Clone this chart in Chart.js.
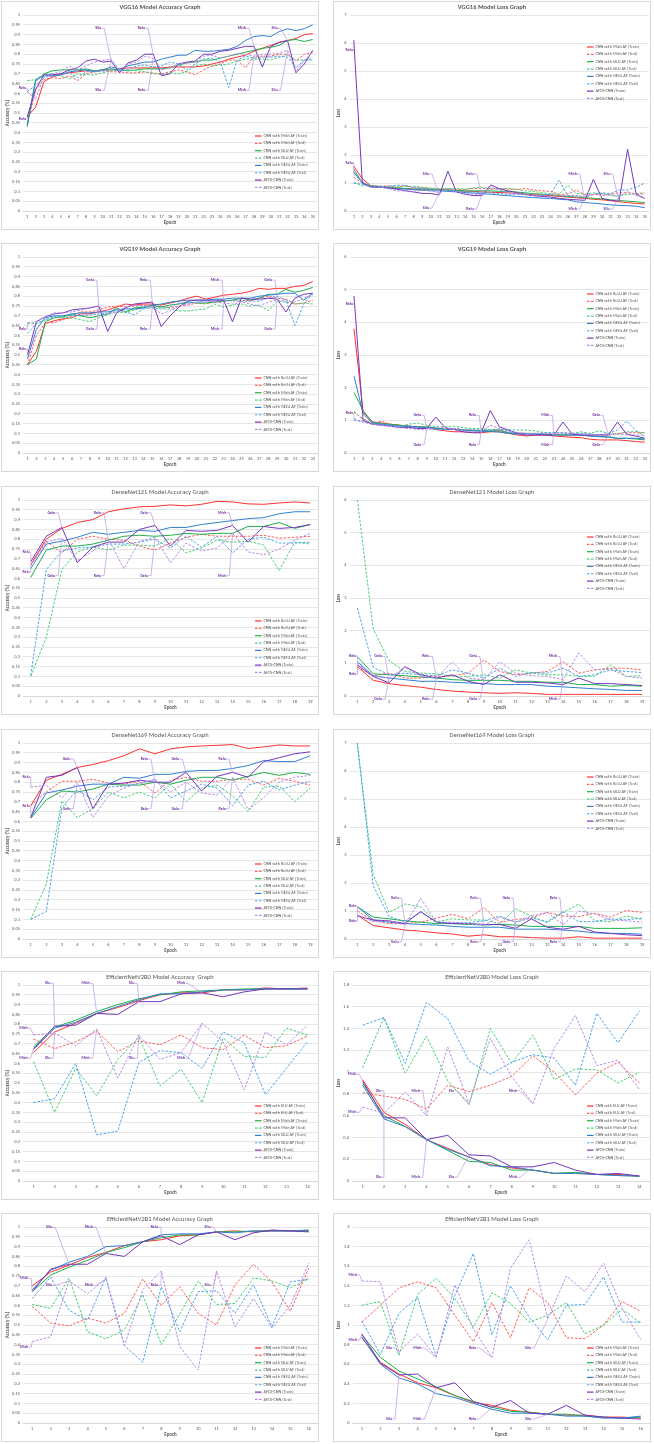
<!DOCTYPE html>
<html><head><meta charset="utf-8">
<script src="https://cdn.jsdelivr.net/npm/chart.js@4.4.1/dist/chart.umd.min.js"></script>
<style>
html,body{margin:0;padding:0;background:#fff}
body{width:654px;height:1444px;position:relative;overflow:hidden}
.p{position:absolute;width:318px;height:229px;border:1px solid #d9d9d9;box-sizing:border-box;background:#fff}
.p canvas{display:block}
</style></head><body>
<div class="p" style="left:1px;top:1px"><canvas id="c0" width="316" height="227"></canvas></div>
<div class="p" style="left:333px;top:1px"><canvas id="c1" width="316" height="227"></canvas></div>
<div class="p" style="left:1px;top:243px"><canvas id="c2" width="316" height="227"></canvas></div>
<div class="p" style="left:333px;top:243px"><canvas id="c3" width="316" height="227"></canvas></div>
<div class="p" style="left:1px;top:486px"><canvas id="c4" width="316" height="227"></canvas></div>
<div class="p" style="left:333px;top:486px"><canvas id="c5" width="316" height="227"></canvas></div>
<div class="p" style="left:1px;top:729px"><canvas id="c6" width="316" height="227"></canvas></div>
<div class="p" style="left:333px;top:729px"><canvas id="c7" width="316" height="227"></canvas></div>
<div class="p" style="left:1px;top:971px"><canvas id="c8" width="316" height="227"></canvas></div>
<div class="p" style="left:333px;top:971px"><canvas id="c9" width="316" height="227"></canvas></div>
<div class="p" style="left:1px;top:1213px"><canvas id="c10" width="316" height="227"></canvas></div>
<div class="p" style="left:333px;top:1213px"><canvas id="c11" width="316" height="227"></canvas></div>
<script>
// ---------- categories ----------
const epochs35 = [1,2,3,4,5,6,7,8,9,10,11,12,13,14,15,16,17,18,19,20,21,22,23,24,25,26,27,28,29,30,31,32,33,34,35];
const epochs33 = [1,2,3,4,5,6,7,8,9,10,11,12,13,14,15,16,17,18,19,20,21,22,23,24,25,26,27,28,29,30,31,32,33];
const epochs19 = [1,2,3,4,5,6,7,8,9,10,11,12,13,14,15,16,17,18,19];
const epochs16 = [1,2,3,4,5,6,7,8,9,10,11,12,13,14,15,16];
const epochs14 = [1,2,3,4,5,6,7,8,9,10,11,12,13,14];

// ---------- y tick labels ----------
const yTicksAcc = [0,0.05,0.1,0.15,0.2,0.25,0.3,0.35,0.4,0.45,0.5,0.55,0.6,0.65,0.7,0.75,0.8,0.85,0.9,0.95,1];
const yTicksLoss7 = [0,1,2,3,4,5,6,7];
const yTicksLoss6 = [0,1,2,3,4,5,6];
const yTicksLoss18 = [0,0.2,0.4,0.6,0.8,1,1.2,1.4,1.6,1.8];
const yTicksLoss2 = [0,0.2,0.4,0.6,0.8,1,1.2,1.4,1.6,1.8,2];

// ---------- series names ----------
const namesMishSiluGelu = ['CNN with Mish AF (Train)','CNN with Mish AF (Test)','CNN with SILU AF (Train)','CNN with SILU AF (Test)','CNN with GELU AF (Train)','CNN with GELU AF (Test)','AFCS-CNN (Train)','AFCS-CNN (Test)'];
const namesReluMishGelu = ['CNN with ReLU AF (Train)','CNN with ReLU AF (Test)','CNN with Mish AF (Train)','CNN with Mish AF (Test)','CNN with GELU AF (Train)','CNN with GELU AF (Test)','AFCS-CNN (Train)','AFCS-CNN (Test)'];
const namesReluSiluGelu = ['CNN with ReLU AF (Train)','CNN with ReLU AF (Test)','CNN with SILU AF (Train)','CNN with SILU AF (Test)','CNN with GELU AF (Train)','CNN with GELU AF (Test)','AFCS-CNN (Train)','AFCS-CNN (Test)'];
const namesEluMishSilu = ['CNN with ELU AF (Train)','CNN with ELU AF (Test)','CNN with Mish AF (Train)','CNN with Mish AF (Test)','CNN with SILU AF (Train)','CNN with SILU AF (Test)','AFCS-CNN (Train)','AFCS-CNN (Test)'];

// ---------- VGG16 accuracy ----------
const vgg16AccMishTrain = [0.48,0.53,0.66,0.685,0.695,0.705,0.71,0.715,0.715,0.72,0.72,0.725,0.73,0.73,0.73,0.73,0.73,0.735,0.735,0.735,0.735,0.74,0.75,0.76,0.775,0.785,0.795,0.815,0.83,0.845,0.86,0.87,0.88,0.9,0.905];
const vgg16AccMishTest = [0.44,0.62,0.67,0.68,0.675,0.69,0.665,0.7,0.71,0.715,0.71,0.71,0.705,0.705,0.71,0.7,0.7,0.71,0.72,0.71,0.695,0.72,0.74,0.75,0.77,0.77,0.73,0.79,0.79,0.79,0.8,0.8,0.765,0.8,0.81];
const vgg16AccSiluTrain = [0.43,0.66,0.7,0.715,0.72,0.72,0.72,0.725,0.715,0.72,0.725,0.72,0.715,0.72,0.725,0.725,0.725,0.73,0.745,0.755,0.76,0.77,0.77,0.78,0.79,0.8,0.81,0.82,0.83,0.835,0.845,0.87,0.875,0.865,0.875];
const vgg16AccSiluTest = [0.665,0.67,0.7,0.7,0.69,0.675,0.7,0.695,0.695,0.705,0.715,0.72,0.72,0.715,0.71,0.705,0.695,0.705,0.7,0.71,0.74,0.75,0.74,0.745,0.75,0.765,0.775,0.775,0.775,0.77,0.785,0.795,0.77,0.77,0.78];
const vgg16AccGeluTrain = [0.44,0.67,0.69,0.69,0.695,0.71,0.715,0.72,0.71,0.72,0.735,0.725,0.74,0.75,0.76,0.76,0.775,0.785,0.795,0.795,0.82,0.815,0.815,0.82,0.825,0.84,0.87,0.89,0.895,0.89,0.915,0.93,0.92,0.93,0.95];
const vgg16AccGeluTest = [0.61,0.64,0.68,0.69,0.7,0.705,0.68,0.71,0.715,0.715,0.72,0.715,0.72,0.74,0.745,0.735,0.74,0.76,0.75,0.72,0.75,0.775,0.78,0.76,0.63,0.77,0.79,0.78,0.785,0.785,0.79,0.785,0.73,0.77,0.77];
const vgg16AccAfcsTrain = [0.48,0.62,0.695,0.695,0.7,0.72,0.73,0.765,0.775,0.76,0.765,0.705,0.755,0.77,0.8,0.8,0.69,0.7,0.75,0.76,0.765,0.8,0.8,0.815,0.82,0.83,0.84,0.84,0.735,0.84,0.86,0.87,0.705,0.75,0.82];
const vgg16AccAfcsTest = [0.61,0.57,0.69,0.7,0.71,0.74,0.72,0.74,0.76,0.77,0.775,0.715,0.75,0.76,0.79,0.78,0.72,0.73,0.75,0.755,0.76,0.79,0.795,0.78,0.79,0.805,0.8,0.79,0.8,0.8,0.805,0.82,0.71,0.77,0.81];

// ---------- VGG16 loss ----------
const vgg16LossMishTrain = [1.6,1.15,0.9,0.88,0.85,0.82,0.8,0.78,0.78,0.77,0.76,0.75,0.72,0.71,0.7,0.68,0.67,0.66,0.65,0.62,0.6,0.58,0.57,0.55,0.52,0.5,0.47,0.45,0.42,0.4,0.37,0.33,0.3,0.27,0.25];
const vgg16LossMishTest = [1.2,1.0,0.88,0.88,0.9,0.85,0.9,0.82,0.83,0.8,0.78,0.78,0.76,0.78,0.8,0.82,0.78,0.8,0.78,0.76,0.8,0.75,0.72,0.7,0.6,0.6,0.75,0.58,0.58,0.6,0.6,0.65,0.65,0.62,0.65];
const vgg16LossSiluTrain = [1.5,1.0,0.9,0.87,0.85,0.82,0.8,0.78,0.78,0.77,0.75,0.75,0.74,0.72,0.72,0.72,0.72,0.7,0.7,0.68,0.65,0.62,0.6,0.58,0.55,0.52,0.5,0.48,0.45,0.43,0.4,0.38,0.35,0.33,0.3];
const vgg16LossSiluTest = [1.02,0.9,0.9,0.88,0.85,0.85,0.87,0.88,0.85,0.82,0.8,0.8,0.8,0.78,0.82,0.85,0.8,0.78,0.8,0.78,0.72,0.7,0.65,0.62,0.6,0.92,0.62,0.6,0.65,0.62,0.55,0.55,0.6,0.6,0.62];
const vgg16LossGeluTrain = [1.4,1.0,0.88,0.85,0.82,0.8,0.78,0.76,0.74,0.72,0.72,0.7,0.68,0.66,0.64,0.62,0.6,0.57,0.55,0.52,0.5,0.48,0.46,0.45,0.42,0.4,0.33,0.3,0.28,0.25,0.22,0.2,0.19,0.17,0.12];
const vgg16LossGeluTest = [1.0,0.95,0.88,0.85,0.88,0.92,0.92,0.85,0.8,0.78,0.75,0.72,0.7,0.68,0.68,0.65,0.65,0.62,0.6,0.6,0.58,0.55,0.55,0.6,1.1,0.55,0.55,0.5,0.6,0.65,0.62,0.75,0.75,0.85,1.0];
const vgg16LossAfcsTrain = [6.1,1.0,0.85,0.85,0.82,0.78,0.72,0.68,0.63,0.62,0.58,1.42,0.68,0.6,0.55,0.55,0.93,0.8,0.72,0.66,0.6,0.55,0.52,0.5,0.45,0.42,0.4,0.38,1.13,0.45,0.38,0.35,2.2,0.6,0.45];
const vgg16LossAfcsTest = [1.3,1.05,0.85,0.85,0.82,0.72,0.72,0.7,0.75,0.72,0.65,0.8,0.7,0.62,0.6,0.6,0.85,0.75,0.65,0.62,0.6,0.55,0.55,0.6,0.55,0.55,0.55,0.5,0.6,0.55,0.58,0.5,0.7,0.55,0.45];

// ---------- VGG19 accuracy ----------
const vgg19AccReluTrain = [0.45,0.52,0.66,0.675,0.685,0.69,0.71,0.71,0.72,0.73,0.745,0.76,0.755,0.76,0.76,0.755,0.765,0.775,0.79,0.8,0.785,0.795,0.805,0.81,0.815,0.825,0.84,0.835,0.84,0.84,0.85,0.855,0.875];
const vgg19AccReluTest = [0.45,0.6,0.665,0.665,0.68,0.7,0.72,0.72,0.73,0.745,0.75,0.745,0.75,0.755,0.745,0.75,0.74,0.75,0.755,0.765,0.76,0.77,0.775,0.78,0.78,0.775,0.79,0.8,0.79,0.785,0.76,0.765,0.78];
const vgg19AccMishTrain = [0.45,0.48,0.67,0.69,0.695,0.705,0.7,0.69,0.7,0.71,0.74,0.72,0.74,0.745,0.755,0.745,0.755,0.76,0.77,0.765,0.765,0.77,0.775,0.78,0.79,0.78,0.79,0.81,0.81,0.835,0.82,0.83,0.845];
const vgg19AccMishTest = [0.66,0.66,0.68,0.69,0.69,0.69,0.68,0.67,0.69,0.705,0.72,0.715,0.73,0.74,0.74,0.735,0.735,0.725,0.725,0.73,0.735,0.76,0.745,0.755,0.76,0.75,0.755,0.725,0.775,0.77,0.76,0.765,0.76];
const vgg19AccGeluTrain = [0.48,0.63,0.69,0.7,0.7,0.71,0.715,0.715,0.72,0.72,0.73,0.735,0.735,0.74,0.755,0.76,0.77,0.775,0.78,0.78,0.78,0.785,0.785,0.79,0.79,0.79,0.8,0.805,0.81,0.815,0.815,0.78,0.815];
const vgg19AccGeluTest = [0.61,0.66,0.68,0.695,0.7,0.705,0.7,0.705,0.71,0.71,0.73,0.72,0.705,0.735,0.745,0.74,0.745,0.765,0.765,0.77,0.77,0.775,0.78,0.775,0.775,0.775,0.775,0.79,0.8,0.78,0.65,0.76,0.815];
const vgg19AccAfcsTrain = [0.5,0.67,0.695,0.71,0.715,0.73,0.735,0.74,0.75,0.62,0.715,0.74,0.76,0.765,0.77,0.645,0.7,0.745,0.775,0.78,0.78,0.78,0.78,0.67,0.79,0.785,0.785,0.79,0.785,0.72,0.79,0.81,0.815];
const vgg19AccAfcsTest = [0.665,0.67,0.695,0.715,0.715,0.72,0.73,0.74,0.75,0.71,0.72,0.745,0.755,0.75,0.745,0.71,0.725,0.75,0.76,0.77,0.775,0.77,0.765,0.76,0.77,0.76,0.75,0.77,0.78,0.775,0.77,0.79,0.805];

// ---------- VGG19 loss ----------
const vgg19LossReluTrain = [3.8,1.25,0.95,0.92,0.88,0.85,0.82,0.8,0.78,0.72,0.68,0.65,0.65,0.63,0.62,0.65,0.65,0.6,0.55,0.52,0.55,0.55,0.52,0.5,0.48,0.47,0.42,0.4,0.4,0.4,0.38,0.35,0.33];
const vgg19LossReluTest = [1.25,1.05,0.9,0.97,0.88,0.85,0.8,0.8,0.78,0.75,0.75,0.75,0.72,0.7,0.7,0.68,0.68,0.62,0.6,0.6,0.6,0.58,0.58,0.55,0.55,0.55,0.55,0.55,0.55,0.6,0.62,0.62,0.62];
const vgg19LossMishTrain = [1.85,1.3,0.95,0.9,0.88,0.85,0.82,0.8,0.8,0.77,0.72,0.72,0.7,0.7,0.68,0.7,0.7,0.62,0.6,0.6,0.58,0.58,0.55,0.55,0.55,0.55,0.52,0.5,0.48,0.45,0.45,0.43,0.4];
const vgg19LossMishTest = [1.28,1.0,0.9,0.88,0.85,0.82,0.88,0.92,0.85,0.8,0.8,0.82,0.78,0.75,0.75,0.72,0.72,0.72,0.7,0.7,0.68,0.62,0.62,0.6,0.6,0.65,0.6,0.68,0.6,0.58,0.65,0.65,0.62];
const vgg19LossGeluTrain = [2.35,1.2,0.92,0.88,0.85,0.82,0.82,0.8,0.78,0.75,0.72,0.72,0.7,0.68,0.66,0.66,0.64,0.6,0.58,0.58,0.58,0.56,0.55,0.55,0.55,0.55,0.52,0.5,0.5,0.45,0.45,0.45,0.43];
const vgg19LossGeluTest = [1.05,0.95,0.9,0.88,0.85,0.8,0.78,0.78,0.75,0.72,0.72,0.75,0.72,0.7,0.7,0.7,0.72,0.65,0.62,0.6,0.6,0.62,0.62,0.62,0.6,0.6,0.58,0.55,0.6,0.7,0.98,0.7,0.5];
const vgg19LossAfcsTrain = [4.8,1.0,0.88,0.85,0.82,0.78,0.78,0.75,0.75,1.1,0.78,0.72,0.65,0.62,0.62,1.3,0.8,0.7,0.6,0.55,0.55,0.55,0.55,0.95,0.58,0.55,0.55,0.55,0.55,0.95,0.58,0.52,0.45];
const vgg19LossAfcsTest = [1.0,0.95,0.88,0.85,0.82,0.78,0.75,0.72,0.7,0.8,0.78,0.72,0.68,0.65,0.65,0.85,0.75,0.68,0.62,0.6,0.6,0.6,0.6,0.62,0.6,0.58,0.58,0.55,0.55,0.58,0.55,0.55,0.55];

// ---------- DenseNet121 accuracy ----------
const d121AccReluTrain = [0.67,0.8,0.855,0.885,0.9,0.94,0.955,0.965,0.968,0.975,0.97,0.978,0.993,0.99,0.98,0.978,0.985,0.99,0.985];
const d121AccReluTest = [0.67,0.79,0.73,0.8,0.815,0.8,0.795,0.765,0.745,0.78,0.81,0.825,0.815,0.815,0.815,0.82,0.805,0.81,0.815];
const d121AccMishTrain = [0.605,0.745,0.765,0.765,0.775,0.795,0.815,0.82,0.815,0.82,0.83,0.825,0.83,0.83,0.865,0.865,0.885,0.855,0.875];
const d121AccMishTest = [0.1,0.3,0.645,0.735,0.76,0.745,0.77,0.77,0.765,0.805,0.73,0.755,0.795,0.785,0.79,0.77,0.64,0.785,0.775];
const d121AccGeluTrain = [0.65,0.775,0.79,0.81,0.835,0.825,0.835,0.845,0.84,0.86,0.86,0.875,0.885,0.895,0.905,0.91,0.93,0.94,0.94];
const d121AccGeluTest = [0.105,0.645,0.74,0.755,0.76,0.775,0.775,0.785,0.8,0.755,0.815,0.76,0.815,0.73,0.8,0.81,0.78,0.78,0.785];
const d121AccAfcsTrain = [0.685,0.815,0.86,0.68,0.76,0.785,0.785,0.85,0.87,0.765,0.845,0.84,0.845,0.87,0.785,0.865,0.855,0.86,0.875];
const d121AccAfcsTest = [0.665,0.785,0.805,0.69,0.74,0.8,0.65,0.79,0.81,0.68,0.78,0.74,0.755,0.83,0.735,0.72,0.75,0.795,0.83];

// ---------- DenseNet121 loss ----------
const d121LossReluTrain = [0.9,0.48,0.38,0.32,0.27,0.2,0.15,0.12,0.1,0.08,0.1,0.08,0.05,0.05,0.05,0.05,0.05,0.05,0.05];
const d121LossReluTest = [0.88,0.62,0.7,0.55,0.55,0.6,0.62,0.7,1.1,0.75,0.65,0.7,0.75,1.05,0.7,0.8,0.85,0.85,0.8];
const d121LossMishTrain = [1.2,0.68,0.65,0.62,0.58,0.55,0.5,0.48,0.48,0.48,0.45,0.45,0.42,0.42,0.35,0.35,0.3,0.32,0.3];
const d121LossMishTest = [6.0,2.05,1.08,0.75,0.7,0.68,0.6,0.6,0.65,0.55,0.8,0.7,0.65,0.65,0.6,0.6,0.95,0.6,0.62];
const d121LossGeluTrain = [1.05,0.62,0.55,0.5,0.45,0.45,0.42,0.4,0.38,0.35,0.35,0.35,0.3,0.28,0.25,0.22,0.2,0.17,0.17];
const d121LossGeluTest = [2.7,0.88,0.65,0.7,0.65,0.62,0.8,0.7,0.55,0.85,0.6,0.72,0.7,0.85,0.6,0.65,0.8,0.75,0.72];
const d121LossAfcsTrain = [0.95,0.6,0.4,0.9,0.65,0.55,0.65,0.45,0.35,0.65,0.42,0.42,0.4,0.35,0.55,0.38,0.38,0.35,0.32];
const d121LossAfcsTest = [1.0,0.62,0.55,0.88,0.6,0.55,1.05,0.55,0.5,1.05,0.7,0.62,0.6,0.5,1.32,0.8,0.82,0.6,0.55];

// ---------- DenseNet169 accuracy ----------
const d169AccReluTrain = [0.68,0.81,0.84,0.875,0.89,0.91,0.935,0.97,0.945,0.97,0.98,0.985,0.988,0.992,0.972,0.98,0.99,0.985,0.985];
const d169AccReluTest = [0.68,0.75,0.805,0.805,0.815,0.795,0.79,0.805,0.745,0.81,0.825,0.805,0.805,0.815,0.815,0.785,0.82,0.805,0.785];
const d169AccSiluTrain = [0.615,0.71,0.755,0.75,0.765,0.79,0.785,0.785,0.8,0.79,0.81,0.825,0.825,0.81,0.83,0.85,0.835,0.85,0.84];
const d169AccSiluTest = [0.1,0.28,0.705,0.62,0.665,0.75,0.72,0.75,0.72,0.79,0.7,0.77,0.785,0.73,0.65,0.775,0.78,0.7,0.77];
const d169AccGeluTrain = [0.62,0.745,0.76,0.78,0.79,0.79,0.825,0.82,0.84,0.84,0.855,0.86,0.86,0.87,0.885,0.91,0.905,0.905,0.935];
const d169AccGeluTest = [0.1,0.14,0.67,0.76,0.71,0.775,0.78,0.795,0.815,0.72,0.755,0.79,0.77,0.68,0.785,0.805,0.76,0.785,0.805];
const d169AccAfcsTrain = [0.62,0.825,0.835,0.875,0.665,0.79,0.795,0.81,0.8,0.8,0.85,0.755,0.83,0.85,0.825,0.905,0.925,0.945,0.955];
const d169AccAfcsTest = [0.775,0.785,0.72,0.8,0.62,0.73,0.77,0.795,0.81,0.75,0.8,0.745,0.735,0.825,0.66,0.72,0.8,0.825,0.835];

// ---------- DenseNet169 loss ----------
const d169LossReluTrain = [0.85,0.48,0.4,0.32,0.28,0.22,0.18,0.1,0.15,0.08,0.08,0.05,0.03,0.03,0.08,0.03,0.03,0.03,0.03];
const d169LossReluTest = [1.0,0.65,0.55,0.55,0.6,0.75,0.88,0.72,1.12,0.6,0.7,0.75,0.95,0.82,0.8,0.92,0.78,1.02,0.95];
const d169LossSiluTrain = [1.15,0.78,0.72,0.65,0.6,0.55,0.55,0.52,0.5,0.52,0.5,0.45,0.45,0.45,0.45,0.38,0.38,0.38,0.4];
const d169LossSiluTest = [6.9,2.3,0.95,1.25,1.15,0.62,0.72,0.68,0.68,0.55,1.08,0.82,0.58,0.95,1.25,0.65,0.62,0.82,0.7];
const d169LossGeluTrain = [1.15,0.68,0.6,0.55,0.52,0.5,0.45,0.42,0.42,0.42,0.35,0.35,0.35,0.32,0.28,0.22,0.2,0.2,0.17];
const d169LossGeluTest = [7.0,1.9,0.8,0.62,0.95,0.6,0.58,0.58,0.65,0.82,0.6,0.75,0.62,0.98,0.62,0.62,0.72,0.68,0.75];
const d169LossAfcsTrain = [0.82,0.68,0.65,0.55,0.98,0.6,0.55,0.55,0.52,0.52,0.38,0.72,0.42,0.35,0.45,0.25,0.2,0.15,0.12];
const d169LossAfcsTest = [0.85,0.62,0.65,0.5,1.45,0.6,0.6,0.55,0.5,0.78,0.6,0.82,0.95,0.52,1.0,0.9,0.68,0.65,0.6];

// ---------- EfficientNetV2B0 accuracy ----------
const e0AccEluTrain = [0.655,0.76,0.805,0.855,0.885,0.92,0.95,0.96,0.96,0.975,0.975,0.985,0.98,0.985];
const e0AccEluTest = [0.725,0.675,0.71,0.765,0.66,0.715,0.695,0.745,0.68,0.67,0.745,0.68,0.69,0.74];
const e0AccMishTrain = [0.685,0.785,0.82,0.865,0.9,0.93,0.95,0.965,0.97,0.975,0.98,0.98,0.98,0.98];
const e0AccMishTest = [0.61,0.35,0.575,0.435,0.62,0.735,0.485,0.57,0.4,0.73,0.635,0.63,0.78,0.745];
const e0AccSiluTrain = [0.67,0.78,0.81,0.855,0.89,0.925,0.955,0.955,0.965,0.975,0.975,0.98,0.98,0.98];
const e0AccSiluTest = [0.4,0.42,0.6,0.235,0.255,0.605,0.665,0.655,0.575,0.76,0.705,0.44,0.575,0.71];
const e0AccAfcsTrain = [0.675,0.79,0.795,0.855,0.85,0.915,0.915,0.955,0.96,0.94,0.965,0.98,0.98,0.98];
const e0AccAfcsTest = [0.745,0.755,0.69,0.775,0.525,0.745,0.62,0.655,0.805,0.71,0.465,0.76,0.695,0.795];

// ---------- EfficientNetV2B0 loss ----------
const e0LossEluTrain = [0.93,0.63,0.52,0.38,0.3,0.22,0.15,0.12,0.1,0.07,0.07,0.06,0.06,0.045];
const e0LossEluTest = [0.81,0.78,0.75,0.66,0.88,0.82,0.88,0.96,1.15,1.0,0.79,0.99,1.09,0.9];
const e0LossMishTrain = [0.9,0.6,0.5,0.38,0.28,0.18,0.17,0.1,0.1,0.07,0.08,0.06,0.05,0.045];
const e0LossMishTest = [1.04,1.5,0.99,1.33,0.92,0.7,1.4,1.08,1.34,0.93,1.03,1.02,0.9,1.0];
const e0LossSiluTrain = [0.88,0.57,0.5,0.38,0.29,0.22,0.14,0.13,0.1,0.07,0.07,0.06,0.05,0.045];
const e0LossSiluTest = [1.43,1.5,1.08,1.64,1.49,1.1,0.98,1.09,1.16,1.13,0.88,1.54,1.27,1.56];
const e0LossAfcsTrain = [0.92,0.58,0.58,0.38,0.42,0.24,0.23,0.13,0.13,0.17,0.1,0.06,0.07,0.045];
const e0LossAfcsTest = [0.68,0.62,0.82,0.6,1.23,0.71,1.31,0.96,0.71,1.22,1.52,1.06,1.11,0.84];

// ---------- EfficientNetV2B1 accuracy ----------
const e1AccMishTrain = [0.7,0.77,0.805,0.845,0.87,0.905,0.925,0.935,0.955,0.96,0.975,0.98,0.975,0.98,0.98,0.98];
const e1AccMishTest = [0.595,0.51,0.495,0.535,0.51,0.56,0.735,0.6,0.695,0.56,0.5,0.705,0.81,0.72,0.57,0.79];
const e1AccSiluTrain = [0.67,0.755,0.795,0.83,0.87,0.895,0.925,0.945,0.96,0.96,0.975,0.975,0.98,0.98,0.98,0.985];
const e1AccSiluTest = [0.605,0.585,0.74,0.465,0.43,0.475,0.655,0.4,0.555,0.725,0.605,0.61,0.74,0.725,0.69,0.735];
const e1AccGeluTrain = [0.68,0.78,0.82,0.85,0.9,0.905,0.925,0.96,0.965,0.965,0.975,0.97,0.98,0.98,0.98,0.98];
const e1AccGeluTest = [0.635,0.745,0.575,0.525,0.745,0.395,0.31,0.695,0.465,0.67,0.675,0.56,0.705,0.49,0.72,0.735];
const e1AccAfcsTrain = [0.67,0.785,0.81,0.81,0.865,0.85,0.925,0.955,0.91,0.96,0.975,0.935,0.97,0.985,0.98,0.975];
const e1AccAfcsTest = [0.415,0.44,0.725,0.66,0.735,0.395,0.68,0.775,0.39,0.27,0.775,0.49,0.635,0.485,0.6,0.815];

// ---------- EfficientNetV2B1 loss ----------
const e1LossMishTrain = [0.87,0.62,0.5,0.41,0.36,0.28,0.21,0.18,0.13,0.11,0.09,0.08,0.08,0.06,0.06,0.05];
const e1LossMishTest = [1.03,1.2,1.38,1.44,1.38,1.1,0.83,1.23,0.87,1.38,1.23,0.87,0.86,1.0,1.24,1.14];
const e1LossSiluTrain = [0.9,0.67,0.53,0.45,0.37,0.28,0.22,0.16,0.12,0.11,0.09,0.09,0.07,0.06,0.05,0.06];
const e1LossSiluTest = [1.2,1.24,0.69,1.31,1.48,1.27,0.98,1.33,1.22,1.03,1.1,1.23,0.91,1.0,1.16,1.02];
const e1LossGeluTrain = [0.88,0.6,0.46,0.4,0.3,0.26,0.2,0.14,0.1,0.1,0.09,0.07,0.07,0.05,0.05,0.07];
const e1LossGeluTest = [1.04,0.7,1.12,1.28,0.68,1.3,1.73,0.9,1.4,1.08,0.85,1.2,1.21,1.49,1.03,1.03];
const e1LossAfcsTrain = [0.91,0.61,0.49,0.5,0.36,0.41,0.22,0.16,0.23,0.1,0.09,0.18,0.08,0.06,0.05,0.04];
const e1LossAfcsTest = [1.45,1.44,0.72,0.91,0.67,1.41,0.96,0.67,1.58,1.87,1.06,1.5,1.34,1.63,1.17,0.85];

// ---------- AFCS activation callouts (text + epoch) ----------
const annVgg16Acc = [{ep:1,t:'Relu',dx:1,tr:0.468,te:0.626},{ep:11,t:'Silu',dx:10,tr:0.932,te:0.615},{ep:16,t:'Relu',dx:8,tr:0.932,te:0.615},{ep:28,t:'Mish',dx:8,tr:0.932,te:0.615},{ep:32,t:'Silu',dx:10,tr:0.932,te:0.615}];
const annVgg16Loss = [{ep:1,t:'Relu',dx:1,tr:5.75,te:1.72},{ep:11,t:'Silu',dx:10.5,tr:1.33,te:0.1},{ep:16,t:'Relu',dx:8.5,tr:1.33,te:0.07},{ep:28,t:'Mish',dx:8,tr:1.33,te:0.07},{ep:32,t:'Silu',dx:9.5,tr:1.33,te:0.07}];
const annVgg19Acc = [{ep:1,t:'Relu',dx:1,tr:0.53,te:0.632},{ep:9,t:'Gelu',dx:5,tr:0.882,te:0.632},{ep:15,t:'Relu',dx:5,tr:0.882,te:0.632},{ep:23,t:'Mish',dx:4.5,tr:0.882,te:0.632},{ep:29,t:'Gelu',dx:5,tr:0.882,te:0.632}];
const annVgg19Loss = [{ep:1,t:'Relu',dx:1,tr:4.57,te:1.22},{ep:9,t:'Gelu',dx:5.5,tr:1.15,te:0.26},{ep:15,t:'Relu',dx:5,tr:1.15,te:0.26},{ep:23,t:'Mish',dx:4.5,tr:1.15,te:0.26},{ep:29,t:'Gelu',dx:8.5,tr:1.15,te:0.26}];
const annD121Acc = [{ep:1,t:'Relu',dx:1,tr:0.733,te:0.634},{ep:3,t:'Gelu',dx:6.7,tr:0.935,te:0.614},{ep:6,t:'Relu',dx:7.3,tr:0.935,te:0.614},{ep:9,t:'Gelu',dx:7,tr:0.935,te:0.614},{ep:14,t:'Mish',dx:6.3,tr:0.935,te:0.614}];
const annD121Loss = [{ep:1,t:'Relu',dx:1,tr:0.66,te:1.23},{ep:3,t:'Gelu',dx:7,tr:1.21,te:-0.1},{ep:6,t:'Relu',dx:7,tr:1.21,te:-0.1},{ep:9,t:'Gelu',dx:7,tr:1.21,te:-0.1},{ep:14,t:'Mish',dx:6,tr:1.21,te:-0.1}];
const annD169Acc = [{ep:1,t:'Relu',dx:1,tr:0.677,te:0.827},{ep:4,t:'Gelu',dx:7,tr:0.918,te:0.665},{ep:9,t:'Relu',dx:7,tr:0.918,te:0.665},{ep:11,t:'Gelu',dx:6.8,tr:0.918,te:0.665},{ep:14,t:'Relu',dx:6.7,tr:0.918,te:0.665}];
const annD169Loss = [{ep:1,t:'Relu',dx:1,tr:0.63,te:1.17},{ep:4,t:'Gelu',dx:6.3,tr:1.46,te:-0.1},{ep:9,t:'Relu',dx:6.3,tr:1.46,te:-0.1},{ep:11,t:'Gelu',dx:5.3,tr:1.46,te:-0.1},{ep:14,t:'Relu',dx:6,tr:1.46,te:-0.1}];
const annE0Acc = [{ep:1,t:'Mish',dx:6,tr:0.626,te:0.779},{ep:2,t:'Elu',dx:4.3,tr:1.008,te:0.626},{ep:4,t:'Mish',dx:7,tr:1.008,te:0.626},{ep:6,t:'Elu',dx:4.5,tr:1.008,te:0.626},{ep:9,t:'Mish',dx:17,tr:1.008,te:0.626}];
const annE0Loss = [{ep:1,t:'Mish',dx:6.3,tr:0.98,te:0.63},{ep:2,t:'Elu',dx:2.6,tr:0.034,te:0.83},{ep:4,t:'Mish',dx:6.7,tr:0.034,te:0.83},{ep:6,t:'Elu',dx:15,tr:0.034,te:0.83},{ep:9,t:'Mish',dx:16,tr:0.034,te:0.83}];
const annE1Acc = [{ep:1,t:'Mish',dx:4,tr:0.738,te:0.387},{ep:3,t:'Silu',dx:17,tr:1.0,te:0.702},{ep:5,t:'Mish',dx:13,tr:1.0,te:0.702},{ep:8,t:'Relu',dx:3.3,tr:1.0,te:0.702},{ep:11,t:'Silu',dx:6,tr:1.0,te:0.702}];
const annE1Loss = [{ep:1,t:'Mish',dx:5,tr:0.85,te:1.51},{ep:3,t:'Silu',dx:7,tr:0.04,te:0.767},{ep:5,t:'Mish',dx:14.7,tr:0.04,te:0.767},{ep:8,t:'Relu',dx:15.7,tr:0.04,te:0.767},{ep:11,t:'Silu',dx:16.7,tr:0.04,te:0.767}];

// ---------- rendering ----------
const F = "Carlito, Lato, 'Open Sans', sans-serif";
const TXT = '#595959';
const PAL = ['#ff3030','#ff5c5c','#1fae4b','#45cf73','#2f80d2','#4aa2ea','#7636bd','#b58ae6'];

const decor = {
  id: 'decor',
  afterDatasetsDraw(chart) {
    const o = chart.options.plugins.decor;
    if (!o || !o.title) return;
    const ctx = chart.ctx, xs = chart.scales.x, ys = chart.scales.y;
    ctx.save();
    ctx.textBaseline = 'middle';
    // callouts
    ctx.font = 'bold 4px ' + F;
    ctx.textAlign = 'right';
    o.ann.forEach(a => {
      const px = xs.getPixelForValue(a.ep - 1);
      [[a.tr, 6], [a.te, 7]].forEach(([lv, di]) => {
        const py = ys.getPixelForValue(chart.data.datasets[di].data[a.ep - 1]);
        const ly = ys.getPixelForValue(lv);
        const tx = px - a.dx;
        const hx = Math.min(tx + 3, px);
        ctx.strokeStyle = '#b996e0'; ctx.lineWidth = 0.7; ctx.setLineDash([]);
        ctx.beginPath(); ctx.moveTo(tx + 0.5, ly); ctx.lineTo(hx, ly); ctx.lineTo(px, py); ctx.stroke();
        ctx.fillStyle = '#7030a0';
        ctx.fillText(a.t, tx, ly);
      });
    });
    // legend
    ctx.textAlign = 'left';
    ctx.font = '4.3px ' + F;
    chart.data.datasets.forEach((d, i) => {
      const y = o.legY + i * 7.35;
      ctx.strokeStyle = d.borderColor; ctx.lineWidth = 1.2; ctx.setLineDash(d.borderDash || []);
      ctx.beginPath(); ctx.moveTo(o.legX, y); ctx.lineTo(o.legX + 6.5, y); ctx.stroke();
      ctx.setLineDash([]);
      ctx.fillStyle = TXT;
      ctx.fillText(d.label, o.legX + 8.5, y);
    });
    // title
    ctx.textAlign = 'center';
    ctx.font = o.tw + ' 6.5px ' + F;
    ctx.fillStyle = TXT;
    ctx.fillText(o.title, chart.width / 2, 5.5);
    ctx.restore();
  }
};

function build(id, t) {
  const datasets = t.series.map((d, i) => ({
    label: t.names[i], data: d, borderColor: PAL[i], backgroundColor: PAL[i],
    borderWidth: 1, borderDash: i % 2 ? [2.5, 1.5] : [], pointRadius: 0, tension: 0,
    fill: false, order: 7 - i
  }));
  const yMax = t.yTicks[t.yTicks.length - 1];
  new Chart(document.getElementById(id), {
    type: 'line',
    data: { labels: t.labels, datasets },
    plugins: [decor],
    options: {
      responsive: false, animation: false, devicePixelRatio: 1,
      layout: { padding: { top: 13, right: 0, left: 0, bottom: 0 } },
      plugins: { legend: { display: false }, title: { display: false }, tooltip: { enabled: false },
        decor: { title: t.title, tw: t.tw, ann: t.ann, legX: t.legX, legY: t.legY } },
      scales: {
        x: {
          type: 'category', offset: true,
          grid: { display: false, drawTicks: false },
          border: { display: true, color: '#d9d9d9' },
          ticks: { autoSkip: false, maxRotation: 0, minRotation: 0, padding: 3, color: TXT, font: { size: 4.5, family: F } },
          title: { display: true, text: 'Epoch', color: TXT, font: { size: 5, weight: 'bold', family: F }, padding: { top: 0, bottom: 3 } },
          afterFit(s) { s.height = 18; }
        },
        y: {
          min: 0, max: yMax,
          afterBuildTicks(s) { s.ticks = t.yTicks.map(v => ({ value: v })); },
          grid: { color: '#e6e6e6', drawTicks: false, lineWidth: 1 },
          border: { display: false },
          ticks: { padding: 3, color: TXT, font: { size: 4.5, family: F }, callback: v => String(v) },
          title: { display: true, text: t.yTitle, color: TXT, font: { size: 5, weight: 'bold', family: F }, padding: { top: t.ytp, bottom: 0 } },
          afterFit(s) { s.width = t.yw; }
        }
      }
    }
  });
}

const ACC = { yTitle: 'Accuracy (%)', yTicks: yTicksAcc, yw: 21, ytp: 3, legX: 253, legY: 134 };

build('c0', Object.assign({}, ACC, { title: 'VGG16 Model Accuracy Graph', tw: 'bold', labels: epochs35, names: namesMishSiluGelu, ann: annVgg16Acc,
  series: [vgg16AccMishTrain, vgg16AccMishTest, vgg16AccSiluTrain, vgg16AccSiluTest, vgg16AccGeluTrain, vgg16AccGeluTest, vgg16AccAfcsTrain, vgg16AccAfcsTest] }));
build('c1', { title: 'VGG16 Model Loss Graph', tw: 'bold', yTitle: 'Loss', yTicks: yTicksLoss7, yw: 15.5, ytp: 2, legX: 253, legY: 45,
  labels: epochs35, names: namesMishSiluGelu, ann: annVgg16Loss,
  series: [vgg16LossMishTrain, vgg16LossMishTest, vgg16LossSiluTrain, vgg16LossSiluTest, vgg16LossGeluTrain, vgg16LossGeluTest, vgg16LossAfcsTrain, vgg16LossAfcsTest] });
build('c2', Object.assign({}, ACC, { title: 'VGG19 Model Accuracy Graph', tw: 'bold', labels: epochs33, names: namesReluMishGelu, ann: annVgg19Acc,
  series: [vgg19AccReluTrain, vgg19AccReluTest, vgg19AccMishTrain, vgg19AccMishTest, vgg19AccGeluTrain, vgg19AccGeluTest, vgg19AccAfcsTrain, vgg19AccAfcsTest] }));
build('c3', { title: 'VGG19 Model Loss Graph', tw: 'bold', yTitle: 'Loss', yTicks: yTicksLoss6, yw: 15.5, ytp: 2, legX: 253, legY: 50,
  labels: epochs33, names: namesReluMishGelu, ann: annVgg19Loss,
  series: [vgg19LossReluTrain, vgg19LossReluTest, vgg19LossMishTrain, vgg19LossMishTest, vgg19LossGeluTrain, vgg19LossGeluTest, vgg19LossAfcsTrain, vgg19LossAfcsTest] });
build('c4', Object.assign({}, ACC, { title: 'DenseNet121 Model Accuracy Graph', tw: 'normal', labels: epochs19, names: namesReluMishGelu, ann: annD121Acc,
  series: [d121AccReluTrain, d121AccReluTest, d121AccMishTrain, d121AccMishTest, d121AccGeluTrain, d121AccGeluTest, d121AccAfcsTrain, d121AccAfcsTest] }));
build('c5', { title: 'DenseNet121 Model Loss Graph', tw: 'normal', yTitle: 'Loss', yTicks: yTicksLoss6, yw: 15.5, ytp: 2, legX: 253, legY: 50,
  labels: epochs19, names: namesReluMishGelu, ann: annD121Loss,
  series: [d121LossReluTrain, d121LossReluTest, d121LossMishTrain, d121LossMishTest, d121LossGeluTrain, d121LossGeluTest, d121LossAfcsTrain, d121LossAfcsTest] });
build('c6', Object.assign({}, ACC, { title: 'DenseNet169 Model Accuracy Graph', tw: 'normal', labels: epochs19, names: namesReluSiluGelu, ann: annD169Acc,
  series: [d169AccReluTrain, d169AccReluTest, d169AccSiluTrain, d169AccSiluTest, d169AccGeluTrain, d169AccGeluTest, d169AccAfcsTrain, d169AccAfcsTest] }));
build('c7', { title: 'DenseNet169 Model Loss Graph', tw: 'normal', yTitle: 'Loss', yTicks: yTicksLoss7, yw: 15.5, ytp: 2, legX: 253, legY: 47,
  labels: epochs19, names: namesReluSiluGelu, ann: annD169Loss,
  series: [d169LossReluTrain, d169LossReluTest, d169LossSiluTrain, d169LossSiluTest, d169LossGeluTrain, d169LossGeluTest, d169LossAfcsTrain, d169LossAfcsTest] });
build('c8', Object.assign({}, ACC, { title: 'EfficientNetV2B0 Model Accuracy  Graph', tw: 'normal', labels: epochs14, names: namesEluMishSilu, ann: annE0Acc,
  series: [e0AccEluTrain, e0AccEluTest, e0AccMishTrain, e0AccMishTest, e0AccSiluTrain, e0AccSiluTest, e0AccAfcsTrain, e0AccAfcsTest] }));
build('c9', { title: 'EfficientNetV2B0 Model Loss Graph', tw: 'normal', yTitle: 'Loss', yTicks: yTicksLoss18, yw: 18, ytp: 2, legX: 253, legY: 134,
  labels: epochs14, names: namesEluMishSilu, ann: annE0Loss,
  series: [e0LossEluTrain, e0LossEluTest, e0LossMishTrain, e0LossMishTest, e0LossSiluTrain, e0LossSiluTest, e0LossAfcsTrain, e0LossAfcsTest] });
build('c10', Object.assign({}, ACC, { title: 'EfficientNetV2B1 Model Accuracy Graph', tw: 'normal', labels: epochs16, names: namesMishSiluGelu, ann: annE1Acc,
  series: [e1AccMishTrain, e1AccMishTest, e1AccSiluTrain, e1AccSiluTest, e1AccGeluTrain, e1AccGeluTest, e1AccAfcsTrain, e1AccAfcsTest] }));
build('c11', { title: 'EfficientNetV2B1 Model Loss Graph', tw: 'normal', yTitle: 'Loss', yTicks: yTicksLoss2, yw: 18.5, ytp: 2, legX: 253, legY: 134,
  labels: epochs16, names: namesMishSiluGelu, ann: annE1Loss,
  series: [e1LossMishTrain, e1LossMishTest, e1LossSiluTrain, e1LossSiluTest, e1LossGeluTrain, e1LossGeluTest, e1LossAfcsTrain, e1LossAfcsTest] });
</script>
</body></html>
